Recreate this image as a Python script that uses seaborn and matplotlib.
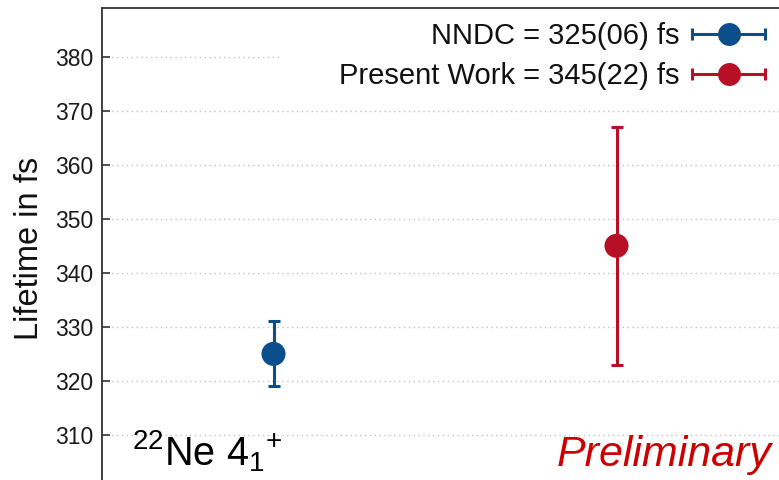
import matplotlib
matplotlib.use("Agg")
import matplotlib.pyplot as plt
import seaborn as sns
import pandas as pd
from matplotlib.container import ErrorbarContainer
from matplotlib.legend_handler import HandlerErrorbar
from matplotlib.lines import Line2D
from matplotlib.patches import Rectangle

# ---- data ----
series = ["NNDC", "Present Work"]
labels = ["NNDC = 325(06) fs", "Present Work = 345(22) fs"]
xpos = [0, 1]
lifetimes = [325, 345]
errors = [6, 22]
colors = ["#0a4f8c", "#b70f25"]
yticks = [310, 320, 330, 340, 350, 360, 370, 380]

sns.set_theme(style="white")
plt.rcParams["font.family"] = ["Liberation Sans", "DejaVu Sans"]
plt.rcParams["mathtext.fontset"] = "custom"
plt.rcParams["mathtext.rm"] = "Liberation Sans"
plt.rcParams["mathtext.it"] = "Liberation Sans:italic"

fig = plt.figure(figsize=(7.79, 4.80), dpi=100)
W, H = 779, 480
# axes extends past right and bottom edges (cropped look)
ax = fig.add_axes([102 / W, -9 / H, 686 / W, 481 / H])

df = pd.DataFrame({"series": series, "x": xpos, "lifetime": lifetimes})

handles = []
for i in range(len(series)):
    cont = ax.errorbar(xpos[i], lifetimes[i], yerr=errors[i], fmt="none",
                       ecolor=colors[i], elinewidth=2.2, capsize=4.0,
                       capthick=2.2, zorder=3)
    proxy = Line2D([], [], marker="o", markersize=15.5, color=colors[i],
                   linestyle="none")
    handles.append(ErrorbarContainer((proxy, cont.lines[1], cont.lines[2]),
                                     has_xerr=True, has_yerr=False,
                                     label=labels[i]))

sns.scatterplot(data=df, x="x", y="lifetime", hue="series",
                palette=colors, s=300, edgecolor="none", legend=False,
                ax=ax, zorder=4)

ax.set_xlim(-0.5, 1.5)
ax.set_ylim(300, 389)
ax.set_yticks(yticks)
ax.set_xticks([])
ax.set_xlabel("")
ax.set_ylabel("Lifetime in fs", fontsize=23.5, color="#111111")
ax.yaxis.set_label_coords(-0.083, 0.501)

ax.tick_params(axis="y", direction="in", length=6, width=1.2,
               color="#333333", labelsize=16.5, labelcolor="#1a1a1a", pad=6.5,
               left=True)
ax.yaxis.grid(True, linestyle=(0, (1, 2.5)), color="#c4c4c4", linewidth=1.0)
ax.set_axisbelow(True)
for s in ["left", "top"]:
    ax.spines[s].set_color("#333333")
    ax.spines[s].set_linewidth(1.3)
ax.spines["right"].set_visible(False)
ax.spines["bottom"].set_visible(False)

# white backdrop behind legend
ax.add_patch(Rectangle(((282 - 102) / 686, (489 - 100) / 481),
                       (788 - 282) / 686, 85 / 481, transform=ax.transAxes,
                       facecolor="white", edgecolor="none", zorder=1.5))

leg = ax.legend(handles=handles, loc="upper right",
                bbox_to_anchor=(771 / W, 1 - 16 / H),
                bbox_transform=fig.transFigure, frameon=False,
                fontsize=21, markerfirst=False, handlelength=2.5,
                handletextpad=0.45, labelspacing=0.42, borderaxespad=0,
                borderpad=0.2,
                handler_map={ErrorbarContainer: HandlerErrorbar(xerr_size=1.25)})
for t in leg.get_texts():
    t.set_color("#111111")

ax.text(-0.4125, 304.4, r"$^{22}$Ne 4$_{1}{}^{+}$", fontsize=28.5,
        ha="left", va="baseline", color="#000000", zorder=5)
ax.text(1.453, 304.3, "Preliminary", fontsize=31, style="italic",
        ha="right", va="baseline", color="#cc0000", zorder=5)

fig.savefig("out.png", dpi=100)
